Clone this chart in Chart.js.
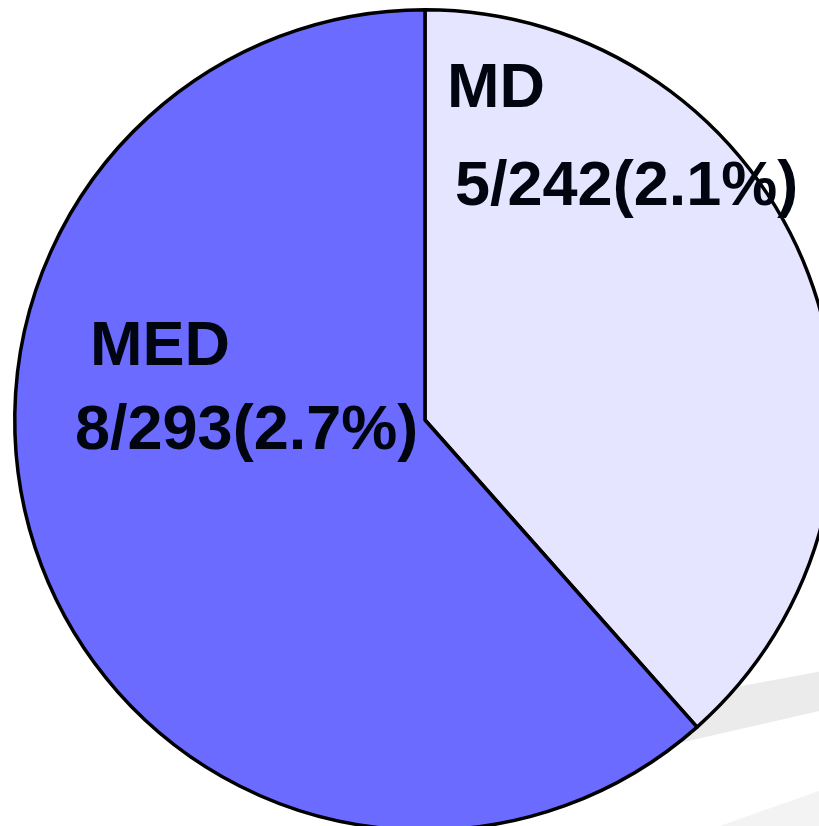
<!DOCTYPE html>
<html>
<head>
<meta charset="utf-8">
<script src="https://cdn.jsdelivr.net/npm/chart.js@4"></script>
<style>
  html, body { margin: 0; padding: 0; background: #fff; overflow: hidden; }
  #wrap { position: absolute; left: 0; top: 0; width: 850px; height: 840px; }
</style>
</head>
<body>
<div id="wrap"><canvas id="pieChart" width="850" height="840"></canvas></div>
<script>
const categories = ['MD', 'MED'];
const events = [5, 8];
const totals = [242, 293];
const percentText = ['2.1%', '2.7%'];
const sliceColors = ['#E5E5FF', '#6B6BFF'];

// faint grey bands behind the pie (slide decoration)
const backdrop = {
  id: 'backdrop',
  beforeDraw(chart) {
    const ctx = chart.ctx;
    ctx.save();
    ctx.fillStyle = '#EBEBEB';
    ctx.beginPath();
    ctx.moveTo(600, 712);
    ctx.lineTo(850, 666);
    ctx.lineTo(850, 704);
    ctx.lineTo(640, 752);
    ctx.closePath();
    ctx.fill();
    ctx.fillStyle = '#F3F3F3';
    ctx.beginPath();
    ctx.moveTo(680, 840);
    ctx.lineTo(850, 780);
    ctx.lineTo(850, 840);
    ctx.closePath();
    ctx.fill();
    ctx.restore();
  }
};

// slice labels, placed relative to the pie centre
const sliceLabels = {
  id: 'sliceLabels',
  afterDatasetsDraw(chart) {
    const arc = chart.getDatasetMeta(0).data[0];
    const cx = arc.x, cy = arc.y;
    const ctx = chart.ctx;
    const spots = [
      [[22, -313], [30, -215]],
      [[-335, -55], [-350, 29]]
    ];
    ctx.save();
    ctx.fillStyle = '#00050F';
    ctx.textAlign = 'left';
    ctx.textBaseline = 'alphabetic';
    ctx.font = 'bold 63px "Liberation Sans", Arial, sans-serif';
    categories.forEach((name, i) => {
      const [a, b] = spots[i];
      ctx.fillText(name, cx + a[0], cy + a[1]);
      ctx.fillText(events[i] + '/' + totals[i] + '(' + percentText[i] + ')', cx + b[0], cy + b[1]);
    });
    ctx.restore();
  }
};

new Chart(document.getElementById('pieChart'), {
  type: 'pie',
  data: {
    labels: categories,
    datasets: [{
      data: events,
      backgroundColor: sliceColors,
      borderColor: '#000000',
      borderWidth: 3.5
    }]
  },
  options: {
    responsive: false,
    animation: false,
    layout: { padding: { top: 8, bottom: 8, left: 0, right: 0 } },
    plugins: {
      legend: { display: false },
      tooltip: { enabled: false }
    }
  },
  plugins: [backdrop, sliceLabels]
});
</script>
</body>
</html>
